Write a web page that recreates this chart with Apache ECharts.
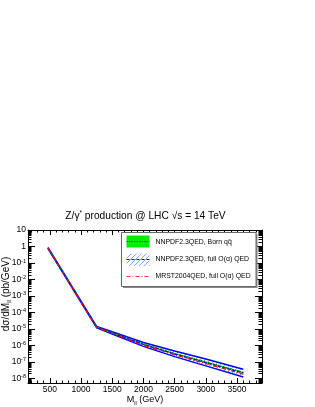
<!DOCTYPE html>
<html><head><meta charset="utf-8">
<script src="https://cdn.jsdelivr.net/npm/echarts@6/dist/echarts.min.js"></script>
<style>html,body{margin:0;padding:0;background:#fff}#c{width:315px;height:407px}</style>
</head><body><div id="c"></div>
<script>
// ---- data ----
const massGeV      = [470, 1250, 1500, 2000, 2500, 3000, 3600];
const bornCentral  = [0.80, 1.30e-5, 5.9e-6, 1.20e-6, 3.2e-7, 9.8e-8, 2.3e-8];
const bornLow      = [0.76, 1.24e-5, 5.6e-6, 1.12e-6, 2.95e-7, 9.0e-8, 2.1e-8];
const bornHigh     = [0.84, 1.36e-5, 6.2e-6, 1.28e-6, 3.45e-7, 1.06e-7, 2.5e-8];
const qedCentral   = [0.79, 1.28e-5, 5.7e-6, 1.15e-6, 3.0e-7, 9.0e-8, 2.1e-8];
const qedLow       = [0.73, 1.18e-5, 4.9e-6, 8.8e-7, 2.1e-7, 5.8e-8, 1.23e-8];
const qedHigh      = [0.87, 1.42e-5, 6.8e-6, 1.52e-6, 4.6e-7, 1.52e-7, 3.6e-8];
const mrstCentral  = [0.78, 1.25e-5, 5.4e-6, 1.05e-6, 2.7e-7, 7.9e-8, 1.8e-8];
const xTickLabels  = [500, 1000, 1500, 2000, 2500, 3000, 3500];
const yTickExponents = [-8, -7, -6, -5, -4, -3, -2, -1, 0, 1];
const legendNames = ['NNPDF2.3QED, Born qq\u0304', 'NNPDF2.3QED, full O(\u03b1) QED', 'MRST2004QED, full O(\u03b1) QED'];
const titleText = 'Z/\u03b3{sup|*} production @ LHC \u221As = 14 TeV';

const xMin = 150, xMax = 3900, yMin = 5.3e-9, yMax = 10;
const FONT = '"Liberation Sans", Arial, Helvetica, sans-serif';

const pairs = (ys) => massGeV.map((m, i) => [m, ys[i]]);

// hatch pattern
const hc = document.createElement('canvas'); hc.width = 5; hc.height = 5;
const g = hc.getContext('2d'); g.strokeStyle = '#7fa8ff'; g.lineWidth = 1;
g.beginPath(); g.moveTo(0, 5); g.lineTo(5, 0); g.moveTo(-1, 1); g.lineTo(1, -1); g.moveTo(4, 6); g.lineTo(6, 4); g.stroke();
const hatch = { image: hc, repeat: 'repeat' };

function bandSeries(low, high, fill, z) {
  return {
    type: 'custom', coordinateSystem: 'cartesian2d', silent: true, z: z,
    data: [[massGeV[0], low[0]]],
    renderItem: (p, api) => {
      const pts = [];
      for (let i = 0; i < massGeV.length; i++) pts.push(api.coord([massGeV[i], high[i]]));
      for (let i = massGeV.length - 1; i >= 0; i--) pts.push(api.coord([massGeV[i], low[i]]));
      return { type: 'polygon', shape: { points: pts }, style: { fill: fill, stroke: null } };
    }
  };
}
function lineSeries(name, ys, color, type, width, z) {
  return { name: name, type: 'line', data: pairs(ys), symbol: 'none', z: z, silent: true,
    lineStyle: { color: color, type: type, width: width }, animation: false };
}

const yFmt = (v) => {
  const e = Math.round(Math.log10(v));
  if (Math.abs(Math.log10(v) - e) > 0.01 || yTickExponents.indexOf(e) < 0) return '';
  if (e === 1) return '10';
  if (e === 0) return '1';
  return '10{sup|' + e + '}';
};
const xFmt = (v) => xTickLabels.indexOf(v) >= 0 ? String(v) : '';

const chart = echarts.init(document.getElementById('c'), null, { renderer: 'canvas' });
const axisCommon = { axisLine: { show: true, onZero: false, lineStyle: { color: '#000', width: 1 } }, splitLine: { show: false } };

chart.setOption({
  animation: false,
  backgroundColor: '#fff',
  grid: { left: 28, right: 53, top: 230, bottom: 20 },
  xAxis: [
    Object.assign({ type: 'value', min: xMin, max: xMax, splitNumber: 7, position: 'bottom',
      axisTick: { inside: true, length: 5, lineStyle: { color: '#000' } },
      minorTick: { show: true, splitNumber: 5, length: 2.5, lineStyle: { color: '#000' } },
      axisLabel: { formatter: xFmt, showMinLabel: false, showMaxLabel: false, margin: 2, fontSize: 8.5, color: '#000', fontFamily: FONT },
      name: 'M{sub|ll} (GeV)', nameLocation: 'middle', nameGap: 11,
      nameTextStyle: { fontSize: 9, color: '#000', fontFamily: FONT, rich: { sub: { fontSize: 5.5, verticalAlign: 'bottom', padding: [6, 0, 0, 0], fontFamily: FONT } } }
    }, axisCommon),
    Object.assign({ type: 'value', min: xMin, max: xMax, splitNumber: 7, position: 'top',
      axisTick: { inside: true, length: 5, lineStyle: { color: '#000' } },
      minorTick: { show: true, splitNumber: 5, length: 2.5, lineStyle: { color: '#000' } },
      axisLabel: { show: false } }, axisCommon)
  ],
  yAxis: [
    Object.assign({ type: 'log', logBase: 10, min: yMin, max: yMax, splitNumber: 10, position: 'left',
      axisTick: { inside: true, length: 7, lineStyle: { color: '#000' } },
      axisLabel: { formatter: yFmt, showMinLabel: false, margin: 2, fontSize: 8.5, color: '#000', fontFamily: FONT,
        rich: { sup: { fontSize: 5.5, verticalAlign: 'top', padding: [0, 0, 4, 0], fontFamily: FONT } } }
    }, axisCommon),
    Object.assign({ type: 'log', logBase: 10, min: yMin, max: yMax, splitNumber: 10, position: 'right',
      axisTick: { inside: true, length: 7, lineStyle: { color: '#000' } },
      axisLabel: { show: false } }, axisCommon)
  ],
  series: [
    bandSeries(qedLow, qedHigh, hatch, 2),
    lineSeries('qedHigh', qedHigh, '#0000ff', 'solid', 1.4, 3),
    lineSeries('qedLow', qedLow, '#0000ff', 'solid', 1.4, 3),
    bandSeries(bornLow, bornHigh, '#00ee00', 4),
    lineSeries(legendNames[0], bornCentral, '#007a00', [1.5, 1], 1.5, 5),
    lineSeries(legendNames[1], qedCentral, '#0000ff', [3, 2], 1.2, 6),
    lineSeries(legendNames[2], mrstCentral, '#ff0000', [4, 2, 1, 2], 1.2, 7),
    {
      type: 'custom', coordinateSystem: 'cartesian2d', silent: true, z: 20,
      data: [[massGeV[0], 1]],
      renderItem: (p, api) => {
        const ch = [];
        for (let e = -9; e <= 0; e++) for (let k = 2; k <= 9; k++) {
          const v = k * Math.pow(10, e);
          if (v < yMin || v > yMax) continue;
          const l = api.coord([xMin, v]), r = api.coord([xMax, v]);
          const y = Math.round(l[1]) + 0.5;
          ch.push({ type: 'line', shape: { x1: l[0], y1: y, x2: l[0] + 3.5, y2: y }, style: { stroke: '#000', lineWidth: 1 } });
          ch.push({ type: 'line', shape: { x1: r[0], y1: y, x2: r[0] - 3.5, y2: y }, style: { stroke: '#000', lineWidth: 1 } });
        }
        return { type: 'group', children: ch };
      }
    }
  ],
  graphic: [
    { type: 'text', x: 145.5, y: 216, silent: true,
      style: { text: titleText, align: 'center', verticalAlign: 'middle', fontSize: 10.2, fontFamily: FONT, fill: '#000',
        rich: { sup: { fontSize: 6.5, verticalAlign: 'top', padding: [0, 0, 6, 0], fontFamily: FONT } } } },
    { type: 'text', x: 6.5, y: 294, rotation: Math.PI / 2, silent: true,
      style: { text: 'd\u03c3/dM{sub|ll} (pb/GeV)', align: 'center', verticalAlign: 'middle', fontSize: 10, fontFamily: FONT, fill: '#000',
        rich: { sub: { fontSize: 6, verticalAlign: 'bottom', padding: [6, 0, 0, 0], fontFamily: FONT } } } },
    // legend box
    { type: 'rect', shape: { x: 123, y: 234, width: 134.5, height: 54 }, style: { fill: '#888' }, silent: true, z: 30 },
    { type: 'rect', shape: { x: 121.5, y: 232.5, width: 134.5, height: 54 }, style: { fill: '#fff', stroke: '#666', lineWidth: 1 }, silent: true, z: 31 },
    { type: 'rect', shape: { x: 126.5, y: 235.5, width: 23, height: 12 }, style: { fill: '#00ee00' }, silent: true, z: 32 },
    { type: 'line', shape: { x1: 126.5, y1: 241.5, x2: 149.5, y2: 241.5 }, style: { stroke: '#007a00', lineWidth: 1.2, lineDash: [1.5, 1] }, silent: true, z: 33 },
    { type: 'rect', shape: { x: 126.5, y: 253.5, width: 23, height: 12.5 }, style: { fill: hatch }, silent: true, z: 32 },
    { type: 'line', shape: { x1: 126.5, y1: 259.5, x2: 149.5, y2: 259.5 }, style: { stroke: '#0000ff', lineWidth: 1.2, lineDash: [3, 2] }, silent: true, z: 33 },
    { type: 'line', shape: { x1: 126.5, y1: 276.5, x2: 149.5, y2: 276.5 }, style: { stroke: '#ff3030', lineWidth: 1.2, lineDash: [4, 2, 1, 2] }, silent: true, z: 33 },
    { type: 'text', x: 155.5, y: 242, style: { text: legendNames[0], verticalAlign: 'middle', fontSize: 6.9, fontFamily: FONT, fill: '#000' }, silent: true, z: 33 },
    { type: 'text', x: 155.5, y: 259.5, style: { text: legendNames[1], verticalAlign: 'middle', fontSize: 6.9, fontFamily: FONT, fill: '#000' }, silent: true, z: 33 },
    { type: 'text', x: 155.5, y: 276.5, style: { text: legendNames[2], verticalAlign: 'middle', fontSize: 6.9, fontFamily: FONT, fill: '#000' }, silent: true, z: 33 }
  ]
});
</script></body></html>
